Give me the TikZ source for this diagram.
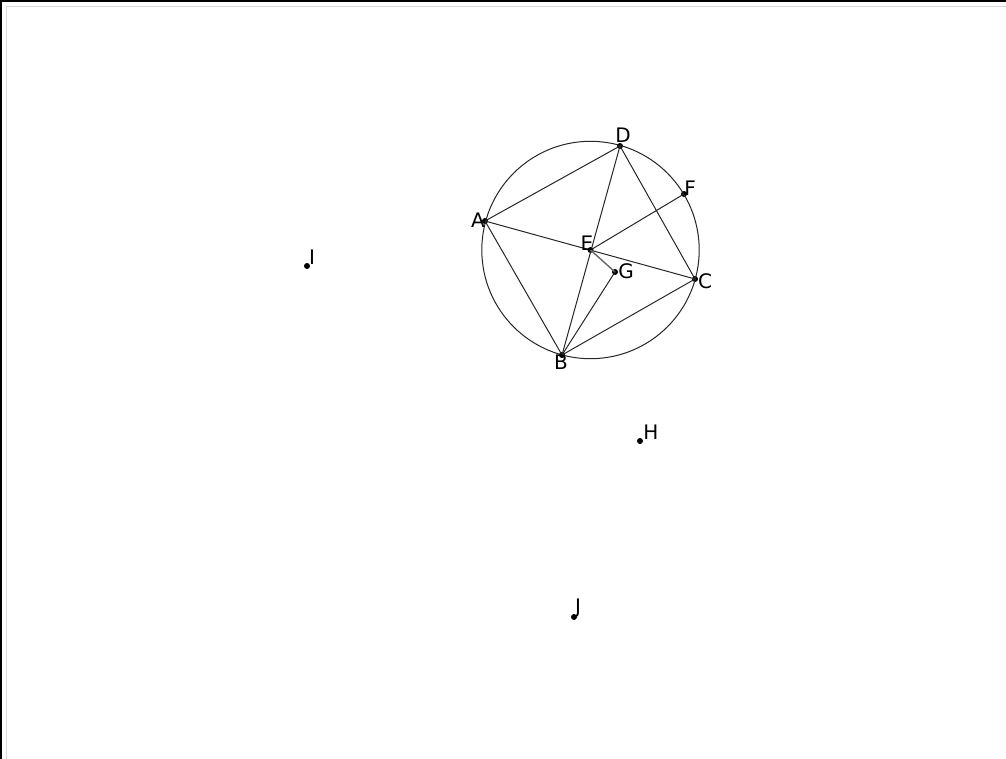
\documentclass[tikz,border=0pt]{standalone}
\usepackage{fontspec}
\setmainfont{DejaVu Sans}
\usetikzlibrary{calc}

\begin{document}
\begin{tikzpicture}[x=1pt,y=-1pt]
\colorlet{mygray}{black!85}
\tikzstyle{pt}=[circle,fill=black,inner sep=0pt,minimum size=6pt]
\tikzset{
lbl/.style={inner sep=0pt,font=\fontsize{20}{20}\selectfont},
seg/.style={mygray,line width=1pt,line cap=round},
}
\def\W{1006}   % picture width
\def\H{759}    % picture height
\def\R{108.7}  % circle radius

\useasboundingbox (0,0) rectangle (\W,\H);

% FRAME
\draw[line width=1.6pt] (0.8,\H) -- (0.8,0.8) -- (\W,0.8);
\draw[black!15,line width=0.8pt] (6,\H) -- (6,6) -- (\W,6);

% POINTS
\node[pt] (E) at (590.5,250) {};  % centre
\node[pt] (A) at (485,221) {};
\node[pt] (D) at (620,146) {};
\node[pt] (F) at (684,194) {};
\node[pt] (C) at (695,279) {};
\node[pt] (B) at (562,355) {};
\node[pt] (G) at (615,272) {};
\node[pt] (H) at (640,441) {};
\node[pt] (I) at (307,266) {};
\node[pt] (J) at (574,617) {};

% CIRCLE
\draw[seg] (E.center) circle (\R);

% QUADRILATERAL AND DIAGONALS
\draw[seg,line join=round] (A.center) -- (D.center) -- (C.center) -- (B.center) -- cycle;
\draw[seg] (A.center) -- (C.center);
\draw[seg] (D.center) -- (B.center);
\draw[seg] (E.center) -- (F.center);
\draw[seg,black!60,line width=1.4pt] (E.center) -- (G.center);
\draw[seg] (B.center) -- (G.center);

% LABELS
\node[lbl] (lA) at (478,220) {A};
\node[lbl] (lB) at (561,362) {B};
\node[lbl] (lC) at (705,281) {C};
\node[lbl] (lD) at (623,135) {D};
\node[lbl] (lE) at (587,243) {E};
\node[lbl] (lF) at (690,188) {F};
\node[lbl] (lG) at (626,271) {G};
\node[lbl] (lH) at (651,432) {H};
\node[lbl] (lI) at (312,257) {I};
\node[lbl] (lJ) at (578,608) {J};
\end{tikzpicture}
\end{document}
